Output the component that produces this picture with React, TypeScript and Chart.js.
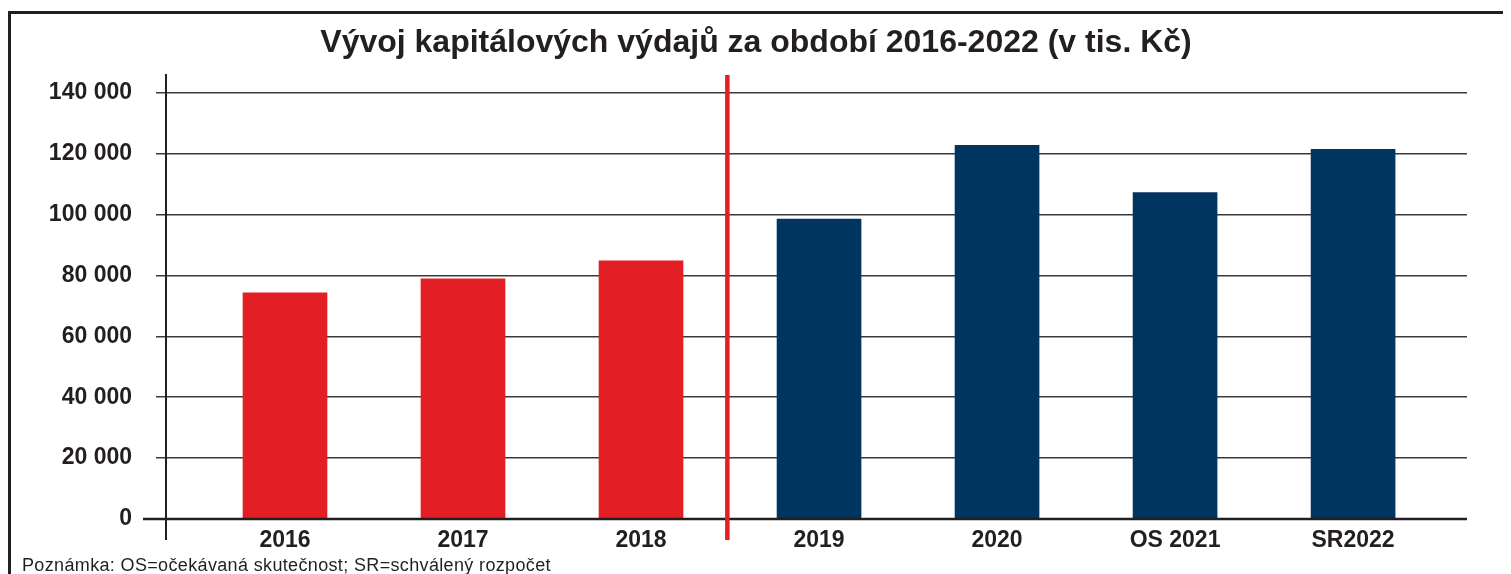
import React, { useEffect, useRef } from "react";
import { Chart, registerables } from "chart.js";

Chart.register(...registerables);

const categories = ["2016", "2017", "2018", "2019", "2020", "OS 2021", "SR2022"];
const values = [74300, 78900, 84800, 98500, 122700, 107200, 121400];
const barColors = ["#e31e24", "#e31e24", "#e31e24", "#00355f", "#00355f", "#00355f", "#00355f"];
const yTicks = [0, 20000, 40000, 60000, 80000, 100000, 120000, 140000];
const dividerAt = 2.485;
const titleText = "Vývoj kapitálových výdajů za období 2016-2022 (v tis. Kč)";
const noteText = "Poznámka: OS=očekávaná skutečnost; SR=schválený rozpočet";

const FONT = "'Liberation Sans', Arial, Helvetica, sans-serif";
const INK = "#231f20";

const extrasPlugin = {
  id: "extras",
  afterDatasetsDraw(chart: any) {
    const { ctx, chartArea, scales } = chart;
    const x = scales.x;
    const y = scales.y;
    const zeroY = y.getPixelForValue(0);
    ctx.save();
    ctx.strokeStyle = INK;
    ctx.lineWidth = 2;
    ctx.beginPath();
    ctx.moveTo(chartArea.left, chartArea.top);
    ctx.lineTo(chartArea.left, zeroY + 21);
    ctx.stroke();
    ctx.lineWidth = 2.5;
    ctx.beginPath();
    ctx.moveTo(chartArea.left - 23, zeroY);
    ctx.lineTo(chartArea.right, zeroY);
    ctx.stroke();
    const dx = x.getPixelForValue(dividerAt);
    ctx.strokeStyle = "#e31e24";
    ctx.lineWidth = 4.5;
    ctx.beginPath();
    ctx.moveTo(dx, chartArea.top);
    ctx.lineTo(dx, zeroY + 21);
    ctx.stroke();
    ctx.restore();
  },
};

export default function App() {
  const ref = useRef<HTMLCanvasElement | null>(null);

  useEffect(() => {
    if (!ref.current) return;
    const chart = new Chart(ref.current, {
      type: "bar",
      data: {
        datasets: [
          {
            data: values.map((v, i) => ({ x: i, y: v })),
            backgroundColor: barColors,
            borderWidth: 0,
            barThickness: 84,
          },
        ],
      },
      options: {
        animation: false,
        responsive: false,
        maintainAspectRatio: false,
        layout: { padding: { left: 0, right: 10, top: 0, bottom: 0 } },
        plugins: {
          legend: { display: false },
          tooltip: { enabled: false },
          title: {
            display: true,
            text: titleText,
            color: INK,
            font: { family: FONT, size: 32, weight: "bold" },
            padding: { top: 10, bottom: 12.6 },
          },
        },
        scales: {
          x: {
            type: "linear",
            offset: false,
            min: -0.6685,
            max: 6.64,
            afterBuildTicks: (axis: any) => {
              axis.ticks = categories.map((_, i) => ({ value: i }));
            },
            afterFit: (axis: any) => {
              axis.height = 55;
            },
            grid: { display: false, drawTicks: false, offset: false },
            border: { display: false },
            ticks: {
              autoSkip: false,
              maxRotation: 0,
              padding: 8,
              color: INK,
              font: { family: FONT, size: 23, weight: "bold" },
              callback: (v: any) => categories[v] ?? "",
            },
          },
          y: {
            min: 0,
            max: 145800,
            afterBuildTicks: (axis: any) => {
              axis.ticks = yTicks.map((v) => ({ value: v }));
            },
            afterFit: (axis: any) => {
              axis.width = 155;
            },
            grid: {
              color: "#3a3a3a",
              lineWidth: (c: any) => (c.tick && c.tick.value === 0 ? 0 : 1.5),
              tickLength: 10,
              drawTicks: true,
            },
            border: { display: true, color: INK, width: 2 },
            ticks: {
              padding: 24,
              color: INK,
              font: { family: FONT, size: 23, weight: "bold" },
              callback: (v: any) => Number(v).toLocaleString("en-US").replace(/,/g, " "),
            },
          },
          spacer: {
            type: "linear",
            position: "right",
            display: true,
            afterFit: (axis: any) => {
              axis.width = 34;
            },
            grid: { display: false, drawTicks: false },
            border: { display: false },
            ticks: { display: false },
          },
        },
      },
      plugins: [extrasPlugin],
    });
    return () => chart.destroy();
  }, []);

  return (
    <div
      style={{
        position: "relative",
        marginTop: 3,
        width: 1503,
        height: 563,
        borderTop: `3px solid ${INK}`,
        borderLeft: `3px solid ${INK}`,
        boxSizing: "border-box",
        background: "#fff",
      }}
    >
      <canvas ref={ref} width={1500} height={560} style={{ display: "block" }} />
      <div
        style={{
          position: "absolute",
          left: 11,
          top: 541,
          fontFamily: FONT,
          fontSize: 18,
          letterSpacing: "0.35px",
          lineHeight: "21px",
          color: INK,
          whiteSpace: "nowrap",
        }}
      >
        {noteText}
      </div>
    </div>
  );
}
